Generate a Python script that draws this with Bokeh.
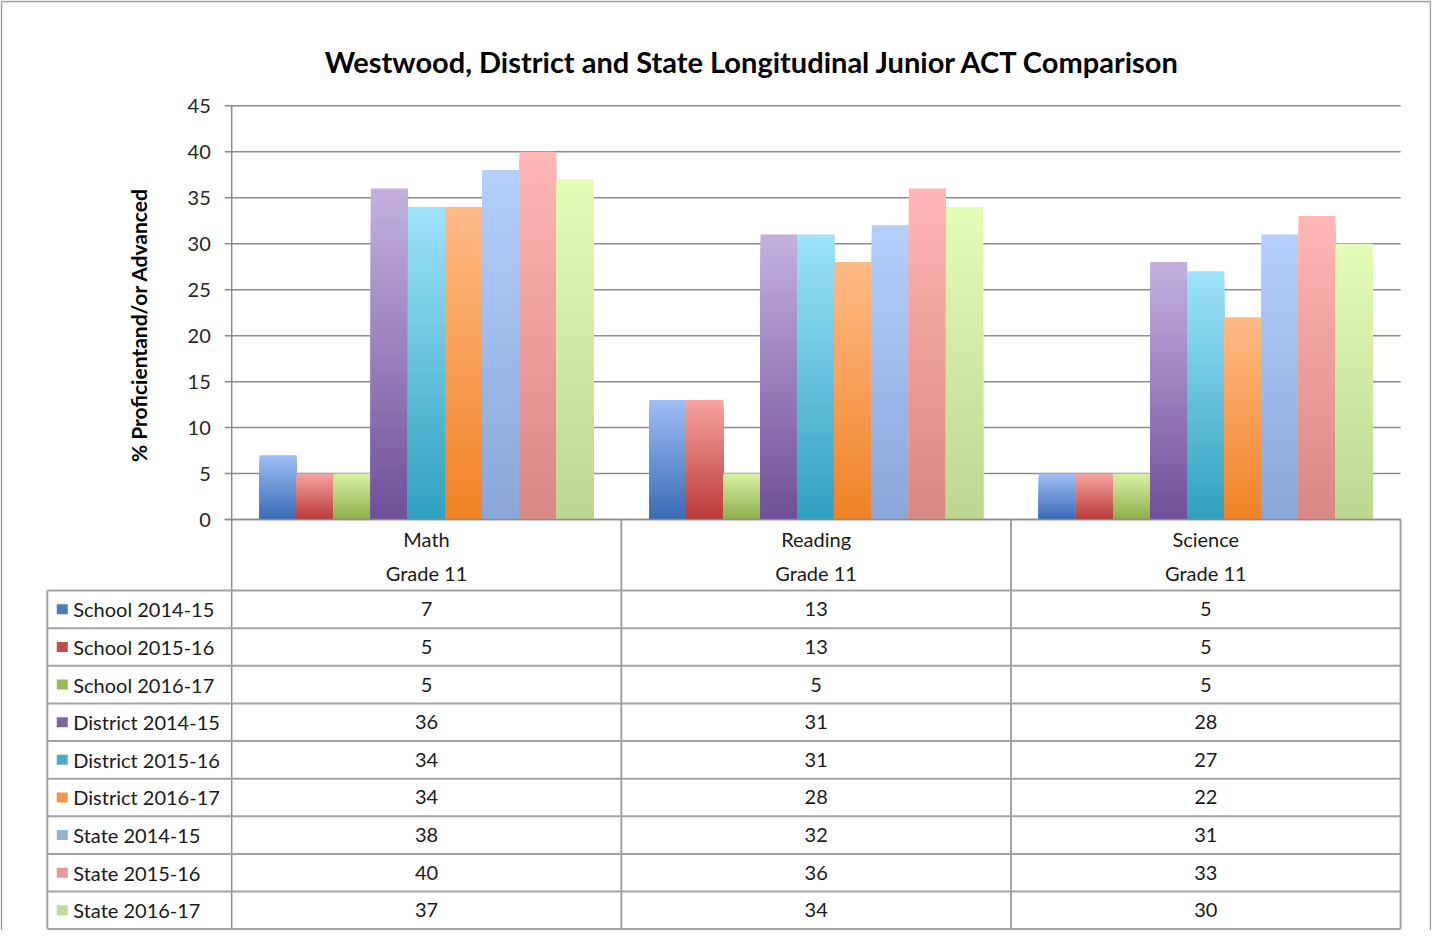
import numpy as np
from bokeh.plotting import figure
from bokeh.models import Range1d
from bokeh.core.properties import value
from bokeh.embed import file_html
from bokeh.resources import INLINE

# ---------------- data ----------------
title = "Westwood, District and State Longitudinal Junior ACT Comparison"
y_label = "% Proficientand/or Advanced"
subjects = ["Math", "Reading", "Science"]
grade_label = "Grade 11"
series_names = ["School 2014-15", "School 2015-16", "School 2016-17",
                "District 2014-15", "District 2015-16", "District 2016-17",
                "State 2014-15", "State 2015-16", "State 2016-17"]
school_2014_15 = [7, 13, 5]
school_2015_16 = [5, 13, 5]
school_2016_17 = [5, 5, 5]
district_2014_15 = [36, 31, 28]
district_2015_16 = [34, 31, 27]
district_2016_17 = [34, 28, 22]
state_2014_15 = [38, 32, 31]
state_2015_16 = [40, 36, 33]
state_2016_17 = [37, 34, 30]
y_ticks = [0, 5, 10, 15, 20, 25, 30, 35, 40, 45]

series_values = [school_2014_15, school_2015_16, school_2016_17,
                 district_2014_15, district_2015_16, district_2016_17,
                 state_2014_15, state_2015_16, state_2016_17]

# ---------------- style ----------------
legend_colors = ["#4a7ebb", "#c0504d", "#9bbb59", "#8064a2", "#4bacc6",
                 "#f79646", "#95b3d7", "#e39a99", "#c3dc9b"]
top_colors = ["#a0bdf5", "#f7a4a1", "#d9f2a6", "#c4b0e0", "#9ee3fb",
              "#ffbb86", "#b5d0ff", "#ffb7b5", "#e3fdb6"]
bottom_colors = ["#386bb5", "#b83a37", "#8cae48", "#6f4f98", "#2fa0bf",
                 "#ef8225", "#8aa6d6", "#d98684", "#bcd78f"]

FONT = value("Lato")
GRID_C = "#8c8c8c"
TABLE_C = "#a3a3a3"
TXT = "20px"

# reference-pixel helpers (layout only)
PX = 45.0 / 417.0
def xr(px):
    return (px - 239.0) / 391.0
def yr(py):
    return (530.0 - py) * PX

W, H = 1431, 930
p = figure(width=W, height=H, output_backend="svg", toolbar_location=None,
           x_range=Range1d(xr(7), xr(1443)), y_range=Range1d(yr(944), yr(7)),
           min_border=0, x_axis_location=None, y_axis_location=None)
p.grid.grid_line_color = None
p.outline_line_color = None
p.background_fill_color = "white"
p.border_fill_color = "white"

# outer border (left, top, right)
p.segment(x0=[xr(8), xr(8), xr(1442)], y0=[yr(944), yr(8), yr(8)],
          x1=[xr(8), xr(1442), xr(1442)], y1=[yr(8), yr(8), yr(944)],
          line_color="#9a9a9a", line_width=1.5)

# horizontal gridlines with ticks
n_cat = len(subjects)
p.segment(x0=[xr(232)] * len(y_ticks), y0=y_ticks,
          x1=[n_cat] * len(y_ticks), y1=y_ticks,
          line_color=GRID_C, line_width=1.5)
p.text(x=[xr(218)] * len(y_ticks), y=y_ticks, text=[str(t) for t in y_ticks],
       text_font=FONT, text_font_size=TXT, text_color="#262626",
       text_align="right", text_baseline="middle")

# gradient bars
n_ser = len(series_names)
bw = (335.0 / 9.0) / 391.0
N = 40
for i, vals in enumerate(series_values):
    xc = [c + 0.5 + (i - (n_ser - 1) / 2.0) * bw for c in range(n_cat)]
    top = np.array([int(top_colors[i][j:j + 2], 16) for j in (1, 3, 5)], float)
    bot = np.array([int(bottom_colors[i][j:j + 2], 16) for j in (1, 3, 5)], float)
    lefts, rights, tops, bottoms, cols = [], [], [], [], []
    for k in range(N):
        frac = (N - k) / N
        t = (N - k - 0.5) / N
        rgb = bot + (top - bot) * t
        col = "#%02x%02x%02x" % tuple(int(round(c)) for c in rgb)
        for c, v in zip(xc, vals):
            lefts.append(c - bw / 2)
            rights.append(c + bw / 2)
            tops.append(v * frac)
            bottoms.append(0)
            cols.append(col)
    p.quad(left=lefts, right=rights, top=tops, bottom=bottoms,
           fill_color=cols, line_color=None)

# axis lines
p.segment(x0=[0], y0=[45], x1=[0], y1=[yr(943)], line_color=GRID_C, line_width=1.5)
p.segment(x0=[xr(232)], y0=[0], x1=[n_cat], y1=[0], line_color=GRID_C, line_width=1.5)

# title and y label
p.text(x=[xr(762)], y=[yr(68)], text=[title], text_font=FONT,
       text_font_size="29px", text_font_style="bold", text_color="#000000",
       text_align="center", text_baseline="middle")
p.text(x=[xr(145)], y=[yr(334)], text=[y_label], angle=np.pi / 2,
       text_font=FONT, text_font_size="21px", text_font_style="bold",
       text_color="#000000", text_align="center", text_baseline="middle")

# ---------------- data table ----------------
row_top = 601.5
row_h = 37.9
n_rows = len(series_names)
row_lines_y = [yr(row_top + r * row_h) for r in range(n_rows + 1)]
# horizontal table lines
p.segment(x0=[xr(54)] * len(row_lines_y), y0=row_lines_y,
          x1=[n_cat] * len(row_lines_y), y1=row_lines_y,
          line_color=TABLE_C, line_width=2)
# vertical table lines
p.segment(x0=[xr(54)], y0=[yr(row_top)], x1=[xr(54)], y1=[row_lines_y[-1]],
          line_color=TABLE_C, line_width=2)
p.segment(x0=list(range(1, n_cat + 1)), y0=[0] * n_cat,
          x1=list(range(1, n_cat + 1)), y1=[row_lines_y[-1]] * n_cat,
          line_color=TABLE_C, line_width=2)

# header labels
p.text(x=[c + 0.5 for c in range(n_cat)], y=[yr(550)] * n_cat, text=subjects,
       text_font=FONT, text_font_size=TXT, text_color="#1a1a1a",
       text_align="center", text_baseline="middle")
p.text(x=[c + 0.5 for c in range(n_cat)], y=[yr(584)] * n_cat,
       text=[grade_label] * n_cat, text_font=FONT, text_font_size=TXT,
       text_color="#1a1a1a", text_align="center", text_baseline="middle")

row_c = [yr(row_top + (r + 0.5) * row_h) for r in range(n_rows)]
p.rect(x=[xr(69)] * n_rows, y=row_c, width=11, height=10,
       width_units="screen", height_units="screen",
       fill_color=legend_colors, line_color=None)
p.text(x=[xr(80)] * n_rows, y=row_c, text=series_names, text_font=FONT,
       text_font_size=TXT, text_color="#1a1a1a",
       text_align="left", text_baseline="middle")

vx, vy, vt = [], [], []
for r, vals in enumerate(series_values):
    for c, v in enumerate(vals):
        vx.append(c + 0.5)
        vy.append(row_c[r])
        vt.append(str(v))
p.text(x=vx, y=vy, text=vt, text_font=FONT, text_font_size=TXT,
       text_color="#1a1a1a", text_align="center", text_baseline="middle")

open("out.html", "w").write(file_html(p, INLINE))
